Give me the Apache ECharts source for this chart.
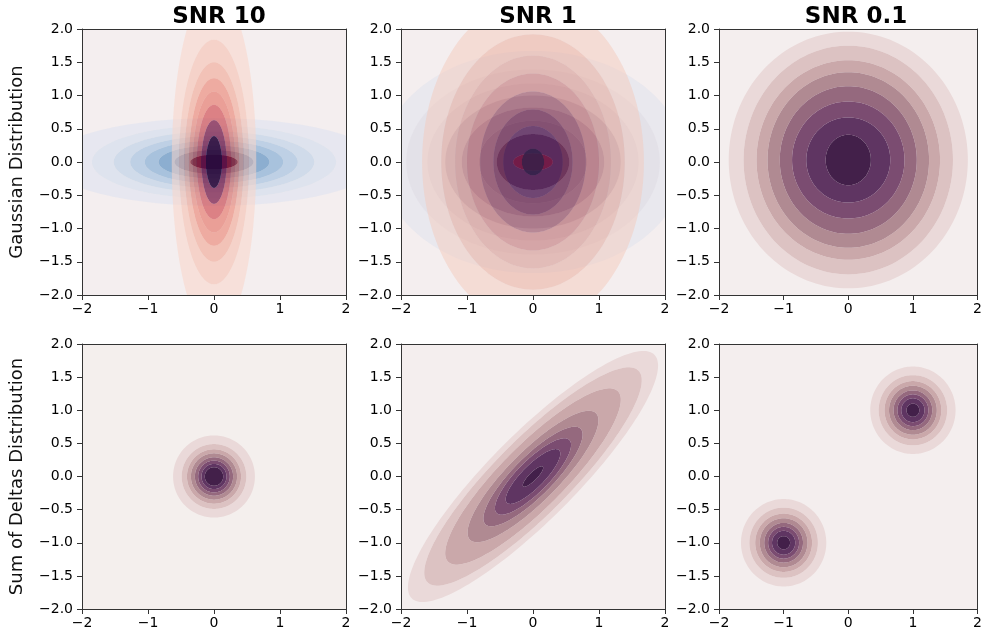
<!DOCTYPE html>
<html><head><meta charset="utf-8">
<script src="https://cdn.jsdelivr.net/npm/echarts@6/dist/echarts.min.js"></script>
<style>html,body{margin:0;padding:0;background:#fff}#c{width:985px;height:638px}</style>
</head><body><div id="c"></div>
<script>
// ---------------- data ----------------
const colTitles = ['SNR 10', 'SNR 1', 'SNR 0.1'];
const rowLabels = ['Gaussian Distribution', 'Sum of Deltas Distribution'];
const xTicks = [-2, -1, 0, 1, 2];
const yTicks = [-2, -1.5, -1, -0.5, 0, 0.5, 1, 1.5, 2];

// contour boundaries (outer -> inner), semi-axes in data units
// top-left, SNR 10
const tlNoiseRx  = [2.5, 1.85, 1.52, 1.27, 1.05, 0.84, 0.60, 0.36];
const tlNoiseRy  = [0.66, 0.55, 0.46, 0.39, 0.32, 0.25, 0.18, 0.11];
const tlSignalRx = [0.64, 0.53, 0.45, 0.38, 0.32, 0.26, 0.19, 0.12];
const tlSignalRy = [2.6, 1.84, 1.50, 1.26, 1.06, 0.86, 0.63, 0.39];
// top-middle, SNR 1
const tmNoiseRx  = [2.3, 1.92, 1.60, 1.33, 1.08, 0.82, 0.55, 0.30];
const tmNoiseRy  = [1.67, 1.39, 1.18, 1.00, 0.82, 0.62, 0.42, 0.13];
const tmSignalRx = [1.68, 1.39, 1.18, 1.00, 0.80, 0.60, 0.45, 0.17];
const tmSignalRy = [2.45, 1.92, 1.60, 1.33, 1.06, 0.79, 0.54, 0.20];
// top-right, SNR 0.1
const trCenter = [0.0, 0.03];
const trRx = [1.85, 1.62, 1.42, 1.25, 1.06, 0.87, 0.65, 0.35];
const trRy = [1.93, 1.72, 1.50, 1.32, 1.11, 0.88, 0.64, 0.38];
// bottom-left
const blCenter = [0, 0];
const blR = [0.62, 0.49, 0.41, 0.35, 0.29, 0.24, 0.19, 0.14];
// bottom-middle (tilted)
const bmCenter = [0, 0];
const bmAngle = 45;
const bmMajor = [2.6, 2.26, 1.82, 1.35, 1.02, 0.78, 0.56, 0.21];
const bmMinor = [0.65, 0.57, 0.48, 0.38, 0.30, 0.24, 0.17, 0.06];
// bottom-right (two deltas)
const brCenters = [[-1, -1], [1, 1]];
const brR = [0.66, 0.53, 0.44, 0.37, 0.30, 0.24, 0.18, 0.10];

// ---------------- styles ----------------
const cube = ['#ead9d9', '#dcc2c2', '#caa8aa', '#b08a92', '#95697e', '#7b4c71', '#5f3562', '#43204a'];
const tlBlues = ['rgba(225,228,240,0.65)', 'rgba(210,221,237,0.65)', 'rgba(189,209,231,0.65)', 'rgba(161,192,222,0.65)',
                 'rgba(127,170,210,0.65)', 'rgba(84,140,191,0.65)', 'rgba(23,80,148,0.65)', 'rgba(20,10,80,0.95)'];
const tlReds = ['rgba(249,214,201,0.55)', 'rgba(246,187,170,0.55)', 'rgba(240,158,137,0.55)', 'rgba(233,116,97,0.55)',
                'rgba(224,80,63,0.5)', 'rgba(200,40,45,0.55)', 'rgba(119,17,63,0.7)', 'rgba(45,11,59,0.9)'];
const tmBlues = ['rgba(222,226,237,0.5)', 'rgba(210,212,225,0.5)', 'rgba(192,190,209,0.5)', 'rgba(150,140,170,0.5)',
                 'rgba(115,95,140,0.55)', 'rgba(76,52,111,0.5)', 'rgba(60,25,80,0.75)', 'rgba(160,20,50,0.9)'];
const tmReds = ['rgba(244,202,187,0.5)', 'rgba(234,168,149,0.5)', 'rgba(219,144,130,0.5)', 'rgba(200,106,102,0.5)',
                'rgba(147,58,76,0.5)', 'rgba(113,38,73,0.6)', 'rgba(80,20,75,0.6)', 'rgba(52,30,72,0.9)'];
const bgColors = ['#f4eeef', '#f4eeef', '#f4eeee', '#f4efed', '#f4eeee', '#f4eeee'];

const gridLefts = [82, 401, 719];
const gridTops = [29, 344];
const gridW = 264, gridH = [266, 265];
const FONT = 'DejaVu Sans';
const AX = '#333';

// layers: [gridIndex, center, angle, rx, ry, palette]
const layers = [
  [0, [0, 0], 0, tlNoiseRx, tlNoiseRy, tlBlues],
  [0, [0, 0], 0, tlSignalRx, tlSignalRy, tlReds],
  [1, [0, 0], 0, tmNoiseRx, tmNoiseRy, tmBlues],
  [1, [0, 0], 0, tmSignalRx, tmSignalRy, tmReds],
  [2, trCenter, 0, trRx, trRy, cube],
  [3, blCenter, 0, blR, blR, cube],
  [4, bmCenter, bmAngle, bmMajor, bmMinor, cube],
  [5, brCenters[0], 0, brR, brR, cube],
  [5, brCenters[1], 0, brR, brR, cube]
];

const fmtMinus = s => String(s).replace('-', '\u2212');

const grids = [], xAxes = [], yAxes = [], series = [], titles = [], graphics = [];
for (let r = 0; r < 2; r++) {
  for (let c = 0; c < 3; c++) {
    const gi = r * 3 + c;
    grids.push({ left: gridLefts[c], top: gridTops[r], width: gridW, height: gridH[r],
      show: true, backgroundColor: bgColors[gi], borderWidth: 0 });
    const common = { gridIndex: gi, type: 'value', min: -2, max: 2, z: 5,
      splitLine: { show: false },
      axisLine: { show: true, onZero: false, lineStyle: { color: AX, width: 1 } } };
    xAxes.push(Object.assign({}, common, { position: 'bottom', interval: 1,
      axisTick: { show: true, length: 5, lineStyle: { color: AX } },
      axisLabel: { margin: 7, color: '#000', fontFamily: FONT, fontSize: 14,
        formatter: v => fmtMinus(v) } }));
    xAxes.push(Object.assign({}, common, { position: 'top', interval: 1,
      axisTick: { show: false }, axisLabel: { show: false } }));
    yAxes.push(Object.assign({}, common, { position: 'left', interval: 0.5,
      axisTick: { show: true, length: 5, lineStyle: { color: AX } },
      axisLabel: { margin: 9, color: '#000', fontFamily: FONT, fontSize: 14,
        formatter: v => fmtMinus(Number(v).toFixed(1)) } }));
    yAxes.push(Object.assign({}, common, { position: 'right', interval: 0.5,
      axisTick: { show: false }, axisLabel: { show: false } }));
  }
}
for (let c = 0; c < 3; c++) {
  titles.push({ text: colTitles[c], left: gridLefts[c] + gridW / 2, top: 1, textAlign: 'center',
    textStyle: { fontFamily: FONT, fontSize: 23, fontWeight: 'bold', color: '#000' } });
}
for (let r = 0; r < 2; r++) {
  graphics.push({ type: 'text', x: 17, y: gridTops[r] + gridH[r] / 2, rotation: Math.PI / 2,
    style: { text: rowLabels[r], font: '18px "DejaVu Sans"', fill: '#111',
      align: 'center', verticalAlign: 'middle' } });
}

function makeRender(colors) {
  return function (params, api) {
    const cx = api.value(0), cy = api.value(1);
    const rxo = api.value(2), ryo = api.value(3), rxi = api.value(4), ryi = api.value(5);
    const ang = api.value(6) * Math.PI / 180;
    const N = 160;
    function ring(rx, ry, rev) {
      let s = '';
      for (let k = 0; k <= N; k++) {
        const t = (rev ? -1 : 1) * 2 * Math.PI * k / N;
        const u = rx * Math.cos(t), v = ry * Math.sin(t);
        const x = cx + u * Math.cos(ang) - v * Math.sin(ang);
        const y = cy + u * Math.sin(ang) + v * Math.cos(ang);
        const p = api.coord([x, y]);
        s += (k ? 'L' : 'M') + p[0].toFixed(2) + ' ' + p[1].toFixed(2);
      }
      return s + 'Z';
    }
    let d = ring(rxo, ryo, false);
    if (rxi > 0) d += ring(rxi, ryi, true);
    return { type: 'path', shape: { pathData: d }, style: { fill: colors[params.dataIndex], stroke: null } };
  };
}

layers.forEach(([gi, ctr, ang, rx, ry, pal], li) => {
  const data = [], cols = [];
  for (let k = 0; k < rx.length; k++) {
    if (!pal[k]) continue;
    const inner = k + 1 < rx.length;
    data.push([ctr[0], ctr[1], rx[k], ry[k], inner ? rx[k + 1] : 0, inner ? ry[k + 1] : 0, ang]);
    cols.push(pal[k]);
  }
  series.push({ type: 'custom', xAxisIndex: gi * 2, yAxisIndex: gi * 2, clip: true, z: 2 + li * 0.01,
    silent: true, animation: false, encode: { x: 0, y: 1 }, data: data, renderItem: makeRender(cols) });
});

const chart = echarts.init(document.getElementById('c'), null, { renderer: 'canvas' });
chart.setOption({ animation: false, backgroundColor: '#ffffff', title: titles, grid: grids,
  xAxis: xAxes, yAxis: yAxes, series: series, graphic: graphics });
</script></body></html>
